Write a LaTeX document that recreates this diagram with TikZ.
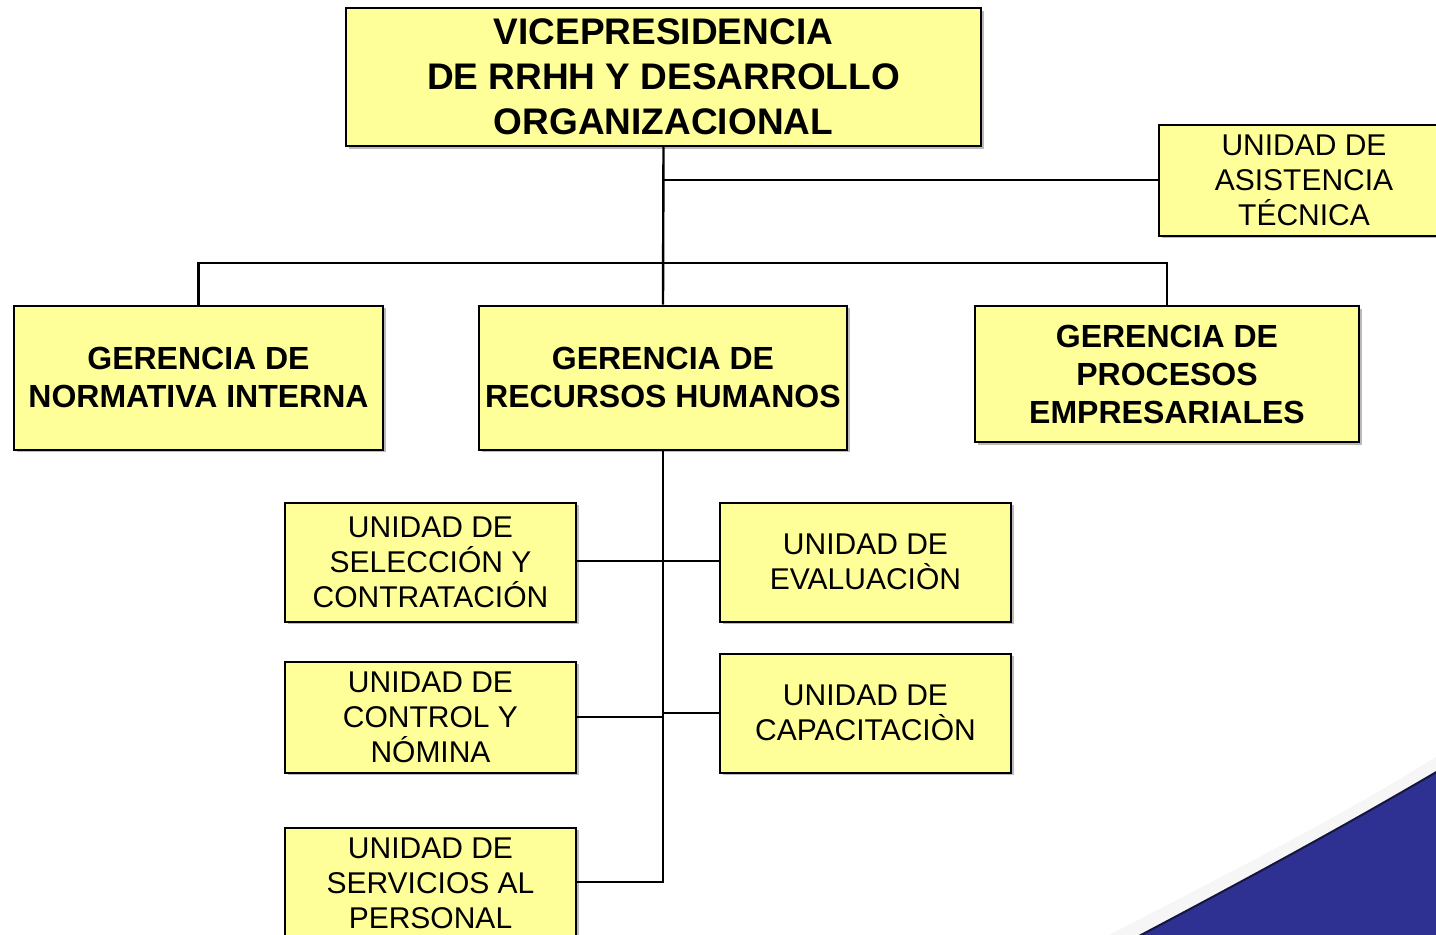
\documentclass[tikz,border=0pt]{standalone}
\usepackage{fontspec}
\setmainfont{Liberation Sans}
\usetikzlibrary{shadows}
\definecolor{boxfill}{HTML}{FFFF99}
\definecolor{swoosh}{HTML}{2E3192}
\definecolor{swooshedge}{HTML}{15163F}
\begin{document}
\begin{tikzpicture}[x=1pt,y=-1pt,
  box/.style={draw=black,line width=2pt,fill=boxfill,align=center,inner sep=0pt,
    drop shadow={shadow xshift=2.5pt,shadow yshift=-2.5pt,fill=black!45,opacity=0.6}},
  unitbox/.style={box,font=\fontsize{30}{35}\selectfont},
  gerbox/.style={box,font=\fontsize{32}{38}\selectfont\bfseries},
  link/.style={line width=2.4pt,draw=black}]
\useasboundingbox (0,0) rectangle (1436,935);
\clip (0,0) rectangle (1436,935);
\fill[white] (0,0) rectangle (1436,935);
% swoosh
\fill[black!6,opacity=0.6] (1090,945) .. controls (1250,862) and (1350,812) .. (1450,748) -- (1450,945) -- cycle;
\fill[swoosh] (1122,945) .. controls (1270,867) and (1360,817) .. (1450,764) -- (1450,945) -- cycle;
\draw[swooshedge,line width=2pt] (1122,945) .. controls (1270,867) and (1360,817) .. (1450,764);

% nodes
\node[box,font=\fontsize{37}{45}\selectfont\bfseries,minimum width=635pt,minimum height=138pt] (vp) at (663.5,77) {VICEPRESIDENCIA\\DE RRHH Y DESARROLLO\\ORGANIZACIONAL};
\node[unitbox,minimum width=290pt,minimum height=111pt] (uat) at (1304,180) {UNIDAD DE\\ASISTENCIA\\TÉCNICA};
\node[gerbox,minimum width=369pt,minimum height=144pt] (gni) at (198.5,377.5) {GERENCIA DE\\NORMATIVA INTERNA};
\node[gerbox,minimum width=368pt,minimum height=144pt] (grh) at (663,377.5) {GERENCIA DE\\RECURSOS HUMANOS};
\node[gerbox,minimum width=384pt,minimum height=136pt] (gpe) at (1167,374) {GERENCIA DE\\PROCESOS\\EMPRESARIALES};
\node[unitbox,minimum width=291pt,minimum height=119pt] (usc) at (430.5,562) {UNIDAD DE\\SELECCIÓN Y\\CONTRATACIÓN};
\node[unitbox,minimum width=291pt,minimum height=119pt] (uev) at (865.5,562) {UNIDAD DE\\EVALUACIÒN};
\node[unitbox,minimum width=291pt,minimum height=111pt] (ucn) at (430.5,717) {UNIDAD DE\\CONTROL Y\\NÓMINA};
\node[unitbox,minimum width=291pt,minimum height=119pt] (uca) at (865.5,713) {UNIDAD DE\\CAPACITACIÒN};
\node[unitbox,minimum width=291pt,minimum height=112pt] (usp) at (430.5,883.5) {UNIDAD DE\\SERVICIOS AL\\PERSONAL};

% connectors
\coordinate (j1) at (663,180);
\coordinate (j2) at (663,263);
\draw[link] (vp.south) -- (grh.north);
\draw[link] (j1) -- (uat.west |- j1);
\draw[link] (gni.north) |- (j2) -| (gpe.north);
\coordinate (s1) at (663,561);
\coordinate (s2) at (663,717);
\coordinate (s3) at (663,713);
\coordinate (s4) at (663,882);
\draw[link] (grh.south) -- (s4) -- (usp.east |- s4);
\draw[link] (usc.east |- s1) -- (uev.west |- s1);
\draw[link] (s2) -- (ucn.east |- s2);
\draw[link] (s3) -- (uca.west |- s3);
\end{tikzpicture}
\end{document}
